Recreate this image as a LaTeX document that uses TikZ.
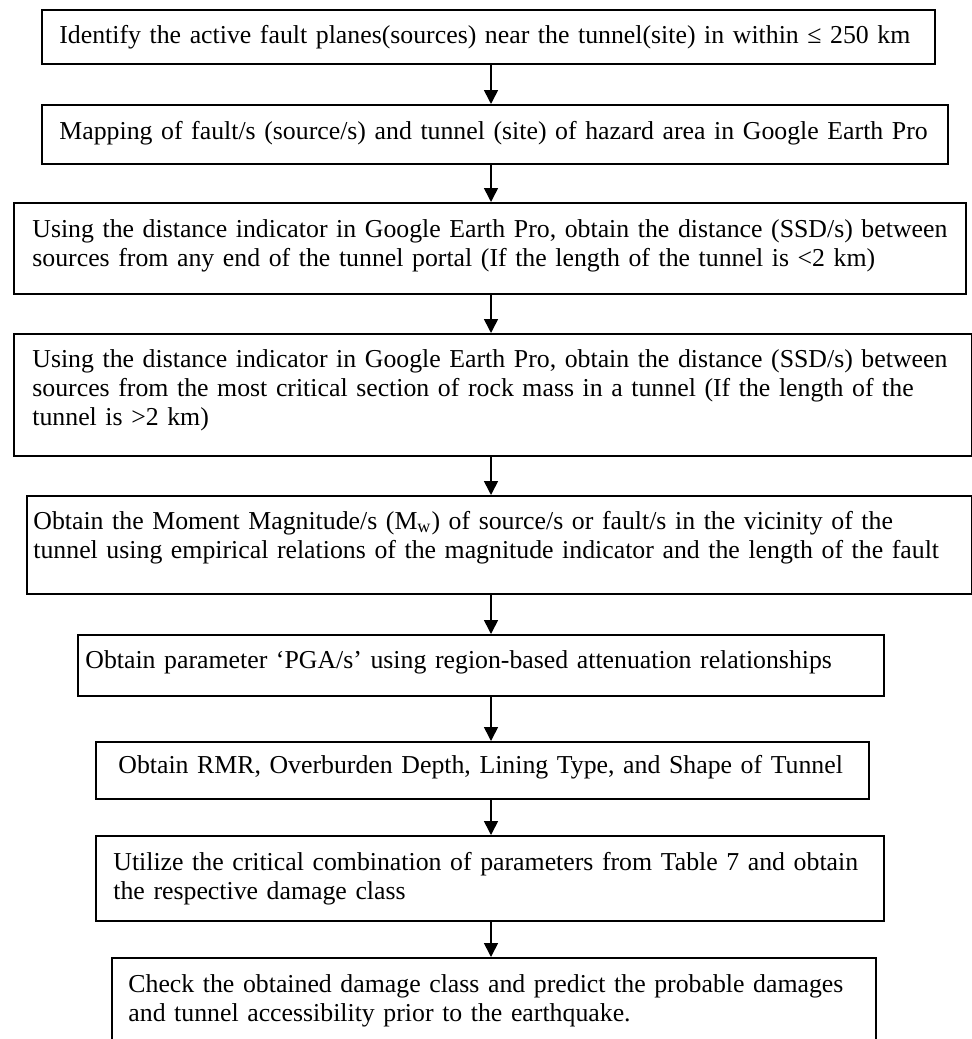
\documentclass[tikz,border=0pt]{standalone}
\usepackage{fontspec}
\setmainfont{Liberation Serif}
\usetikzlibrary{arrows.meta}
\begin{document}
\begin{tikzpicture}[x=0.5pt,y=-0.5pt,
  box/.style={draw=black,line width=0.9pt,inner sep=0pt,anchor=north west,fill=none},
  txt/.style={anchor=base west,inner sep=0pt,text width=475pt,align=left,
    font=\fontsize{12.9}{14.6}\selectfont},
  arr/.style={line width=0.8pt,-{Triangle[width=7pt,length=7pt]}}]
\clip (0,0) rectangle (972,1039);
% boxes
\node[box,minimum width=446.5pt,minimum height=27pt] (b1) at (41,9) {};
\node[box,minimum width=453pt,minimum height=29.5pt] (b2) at (41,104) {};
\node[box,minimum width=476pt,minimum height=45.5pt] (b3) at (13,202) {};
\node[box,minimum width=479pt,minimum height=61pt] (b4) at (13,333) {};
\node[box,minimum width=472.5pt,minimum height=49pt] (b5) at (26,495) {};
\node[box,minimum width=403pt,minimum height=30.5pt] (b6) at (77,634) {};
\node[box,minimum width=386.5pt,minimum height=28.5pt] (b7) at (95,741) {};
\node[box,minimum width=394pt,minimum height=42.5pt] (b8) at (95,835) {};
\node[box,minimum width=382pt,minimum height=60pt] (b9) at (111,957) {};
% texts
\node[txt] (t1) at (59,43) {Identify the active fault planes(sources) near the tunnel(site) in within ≤ 250 km};
\node[txt] (t2) at (59,139) {Mapping of fault/s (source/s) and tunnel (site) of hazard area in Google Earth Pro};
\node[txt] (t3) at (32,237) {Using the distance indicator in Google Earth Pro, obtain the distance (SSD/s) between\\sources from any end of the tunnel portal (If the length of the tunnel is <2 km)};
\node[txt] (t4) at (32,367) {Using the distance indicator in Google Earth Pro, obtain the distance (SSD/s) between\\sources from the most critical section of rock mass in a tunnel (If the length of the\\tunnel is >2 km)};
\node[txt] (t5) at (33,529) {Obtain the Moment Magnitude/s (M\textsubscript{w}) of source/s or fault/s in the vicinity of the\\tunnel using empirical relations of the magnitude indicator and the length of the fault};
\node[txt] (t6) at (85,668) {Obtain parameter ‘PGA/s’ using region-based attenuation relationships};
\node[txt] (t7) at (118,773) {Obtain RMR, Overburden Depth, Lining Type, and Shape of Tunnel};
\node[txt] (t8) at (113,870) {Utilize the critical combination of parameters from Table 7 and obtain\\the respective damage class};
\node[txt] (t9) at (128,992) {Check the obtained damage class and predict the probable damages\\and tunnel accessibility prior to the earthquake.};
% arrows
\coordinate (ax) at (491,0);
\draw[arr] (b1.south -| ax) -- (b2.north -| ax);
\draw[arr] (b2.south -| ax) -- (b3.north -| ax);
\draw[arr] (b3.south -| ax) -- (b4.north -| ax);
\draw[arr] (b4.south -| ax) -- (b5.north -| ax);
\draw[arr] (b5.south -| ax) -- (b6.north -| ax);
\draw[arr] (b6.south -| ax) -- (b7.north -| ax);
\draw[arr] (b7.south -| ax) -- (b8.north -| ax);
\draw[arr] (b8.south -| ax) -- (b9.north -| ax);
\end{tikzpicture}
\end{document}
